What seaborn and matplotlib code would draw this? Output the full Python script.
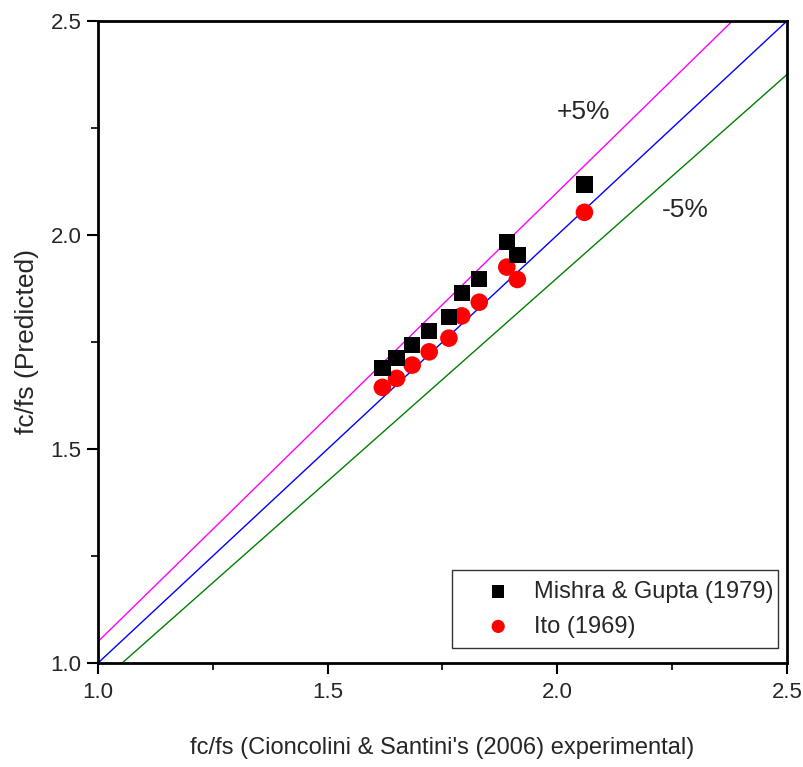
import matplotlib
matplotlib.use("Agg")
import matplotlib.pyplot as plt
import seaborn as sns
import numpy as np
import pandas as pd
from matplotlib.ticker import MultipleLocator, FormatStrFormatter

# Data
exp_x = [1.619, 1.650, 1.684, 1.721, 1.764, 1.792, 1.830, 1.890, 1.913, 2.059]
mishra_y = [1.689, 1.712, 1.743, 1.776, 1.809, 1.865, 1.897, 1.984, 1.953, 2.118]
ito_y = [1.644, 1.665, 1.696, 1.727, 1.759, 1.811, 1.843, 1.925, 1.896, 2.053]
ref_x = [1.0, 2.5]
ref_line = [1.0, 2.5]
plus5 = [1.05, 2.625]
minus5 = [0.95, 2.375]
series_names = ["Mishra & Gupta (1979)", "Ito (1969)"]

sns.set_style("white")
REG = ["Liberation Sans", "DejaVu Sans"]
plt.rcParams['font.family'] = REG

fig = plt.figure(figsize=(8.04, 7.67), dpi=100)
ax = fig.add_axes([98/804, 1 - 663/767, 689/804, 642/767])

lines = pd.DataFrame({"x": ref_x, "eq": ref_line, "p5": plus5, "m5": minus5})
sns.lineplot(data=lines, x="x", y="p5", ax=ax, color="#ff00ff", lw=1)
sns.lineplot(data=lines, x="x", y="eq", ax=ax, color="#0000ff", lw=1)
sns.lineplot(data=lines, x="x", y="m5", ax=ax, color="#008000", lw=1)

df_m = pd.DataFrame({"x": exp_x, "y": mishra_y})
df_i = pd.DataFrame({"x": exp_x, "y": ito_y})
sns.scatterplot(data=df_m, x="x", y="y", ax=ax, marker="s", s=140, color="black",
                edgecolor="none", label=series_names[0], zorder=5)
sns.scatterplot(data=df_i, x="x", y="y", ax=ax, marker="o", s=160, color="red",
                edgecolor="none", label=series_names[1], zorder=4)

ax.set_xlim(1.0, 2.5)
ax.set_ylim(1.0, 2.5)
ax.xaxis.set_major_locator(MultipleLocator(0.5))
ax.xaxis.set_minor_locator(MultipleLocator(0.25))
ax.yaxis.set_major_locator(MultipleLocator(0.5))
ax.yaxis.set_minor_locator(MultipleLocator(0.25))
ax.tick_params(which="major", direction="out", length=8, width=1.5, color="black",
               left=True, bottom=True, right=False, top=False)
ax.tick_params(which="minor", direction="out", length=5, width=1.2, color="black",
               left=True, bottom=True, right=False, top=False)
ax.tick_params(axis="x", labelsize=16, pad=6)
ax.tick_params(axis="y", labelsize=16, pad=4)
ax.xaxis.set_major_formatter(FormatStrFormatter("%.1f"))
ax.yaxis.set_major_formatter(FormatStrFormatter("%.1f"))

for sp in ax.spines.values():
    sp.set_color("black")
    sp.set_linewidth(2)

ax.set_xlabel("fc/fs (Cioncolini & Santini's (2006) experimental)", fontsize=17, labelpad=24)
ax.set_ylabel("fc/fs (Predicted)", fontsize=19, labelpad=8)

ax.text(2.058, 2.287, "+5%", fontsize=19, ha="center", va="center")
ax.text(2.278, 2.058, "-5%", fontsize=19, ha="center", va="center")

leg = ax.legend(loc="lower left", bbox_to_anchor=(0.514, 0.023, 0.473, 0.122), mode="expand",
                fontsize=17, frameon=True, fancybox=False, borderpad=0.45,
                handlelength=3.0, handletextpad=0.0, labelspacing=0.55,
                markerscale=0.75, borderaxespad=0)
leg.get_frame().set_edgecolor("black")
leg.get_frame().set_linewidth(1)

fig.savefig("out.png", dpi=100)
